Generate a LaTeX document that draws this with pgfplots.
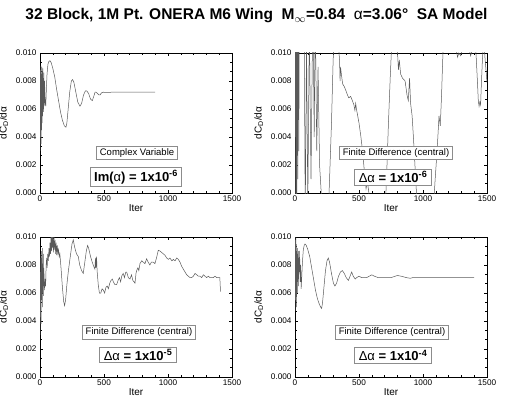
\documentclass[border=0pt]{standalone}
\usepackage{fontspec}
\setmainfont{Liberation Sans}
\usepackage{pgfplots}
\pgfplotsset{compat=1.18}
\pgfplotsset{
  panel/.style={
    scale only axis, width=192pt, height=140pt, anchor=south west,
    xmin=0, xmax=1500, ymin=0, ymax=0.010,
    xtick={0,500,1000,1500},
    ytick={0,0.002,0.004,0.006,0.008,0.010},
    minor x tick num=4, minor y tick num=2,
    tick align=inside,
    major tick length=3pt, minor tick length=1.6pt,
    axis line style={line width=0.6pt},
    every tick/.style={black, line width=0.4pt},
    /pgf/number format/assume math mode=true,
    /pgf/number format/1000 sep={},
    scaled y ticks=false,
    yticklabel style={/pgf/number format/.cd, fixed, fixed zerofill, precision=3},
    tick label style={font=\fontsize{8.2}{9}\selectfont},
    xticklabel style={yshift=1pt},
    xlabel={Iter}, ylabel={dC\textsubscript{D}/dα},
    label style={font=\fontsize{10}{11}\selectfont},
    xlabel style={yshift=4pt},
    ylabel style={yshift=1pt},
    clip=true,
  },
  crv/.style={black!65, line width=0.5pt},
}
\tikzset{
  boxa/.style={draw=black!45, line width=0.8pt, fill=white, font=\fontsize{9.5}{11}\selectfont, inner xsep=3pt, inner ysep=2.5pt},
  boxb/.style={draw=black!45, line width=0.8pt, fill=white, font=\bfseries\fontsize{13}{15}\selectfont, inner xsep=4pt, inner ysep=2.5pt},
}
\begin{document}
\begin{tikzpicture}
\useasboundingbox (0,0) rectangle (513pt,397pt);
\node[font=\bfseries\fontsize{15.5}{18}\selectfont] at (256.5pt,381pt)
  {32 Block, 1M Pt. ONERA M6 Wing\ \ M\textsubscript{$\infty$}=0.84\ \ {\mdseries α}=3.06°\ \ SA Model};

% Top-left
\begin{axis}[panel, at={(40pt,204pt)}]
\addplot[crv] table {
0 0.0030
2 0.0088
4 0.0040
6 0.0091
8 0.0035
10 0.0085
12 0.0045
14 0.0090
16 0.0050
18 0.0087
20 0.0055
22 0.0089
24 0.0060
26 0.0082
28 0.0058
30 0.0086
33 0.0062
36 0.0080
40 0.0065
45 0.0062
50 0.0075
55 0.0085
62 0.0092
70 0.0094
78 0.00945
88 0.0093
100 0.0089
115 0.0083
130 0.0074
145 0.0066
160 0.0058
175 0.0052
190 0.0048
203 0.0047
210 0.0050
220 0.0060
232 0.0072
245 0.0080
255 0.0081
265 0.0079
280 0.0072
295 0.0065
312 0.0062
325 0.0064
340 0.0070
355 0.0073
365 0.0073
380 0.0071
395 0.0067
409 0.0066
420 0.0069
430 0.0072
438 0.0072
450 0.0071
460 0.0070
469 0.0070
480 0.00715
495 0.0072
520 0.00718
560 0.0072
600 0.0072
650 0.00721
700 0.0072
800 0.0072
900 0.0072
};
\node[boxa] at (axis cs:758,0.00286) {Complex Variable};
\node[boxb] at (axis cs:750,0.00114) {Im({\mdseries α}) = 1x10\textsuperscript{-6}};
\end{axis}

% Top-right
\begin{axis}[panel, at={(295pt,204pt)}]
\addplot[crv] table {
0 0.004
3 0.016
6 -0.004
10 0.014
14 -0.002
18 0.013
22 0.001
26 0.015
30 0.003
34 0.013
40 0.011
48 0.014
60 0.015
72 0.012
80 -0.002
90 0.011
100 -0.001
112 0.012
125 0.001
140 0.014
150 0.004
158 0.013
170 0.003
180 0.009
192 0.002
205 0.000
215 -0.003
240 -0.005
262 -0.001
270 0.001
285 0.005
298 0.0095
305 0.0108
315 0.0125
330 0.0115
340 0.0105
348 0.0095
352 0.0080
356 0.0090
362 0.0085
372 0.0078
385 0.0076
398 0.0073
410 0.0070
420 0.0068
435 0.0069
448 0.0066
460 0.0063
468 0.0059
474 0.0064
480 0.0060
488 0.0056
500 0.0050
515 0.0040
530 0.0028
545 0.0012
555 0.0003
565 0.0008
575 0.0002
590 -0.0015
620 -0.004
660 -0.003
705 -0.001
715 0.001
730 0.005
745 0.0085
755 0.0105
770 0.013
790 0.0115
800 0.0102
808 0.0088
815 0.0095
825 0.0085
840 0.0082
860 0.0080
875 0.0070
885 0.0066
895 0.0082
903 0.0064
915 0.0055
925 0.0040
940 0.0015
955 -0.001
990 -0.003
1050 -0.003
1085 -0.0005
1095 0.001
1110 0.003
1125 0.0055
1135 0.0048
1145 0.0070
1152 0.0090
1158 0.0105
1175 0.013
1220 0.014
1260 0.0102
1270 0.0097
1280 0.0100
1295 0.0098
1305 0.0103
1330 0.012
1360 0.0103
1372 0.0098
1385 0.0102
1400 0.0115
1415 0.0098
1425 0.0080
1432 0.0066
1438 0.0062
1444 0.0065
1450 0.0063
1456 0.0078
1464 0.0095
1470 0.0104
1480 0.0102
1487 0.0093
1494 0.0086
1500 0.0079
};
\node[boxa] at (axis cs:789,0.00286) {Finite Difference (central)};
\node[boxb] at (axis cs:766,0.00114) {{\mdseries Δα} = 1x10\textsuperscript{-6}};
\end{axis}

% Bottom-left
\begin{axis}[panel, at={(40pt,20pt)}]
\addplot[crv] table {
0 0.0030
2 0.0075
4 0.0045
6 0.0088
8 0.0038
10 0.0090
12 0.0055
14 0.0085
16 0.0060
18 0.0092
20 0.0050
22 0.0080
24 0.0065
26 0.0088
28 0.0058
30 0.0078
33 0.0068
36 0.0062
40 0.0070
44 0.0065
48 0.0080
52 0.0085
56 0.0078
60 0.0088
65 0.0083
70 0.0092
75 0.0086
78 0.0096
82 0.0088
86 0.0100
90 0.0090
94 0.0102
98 0.0092
102 0.0101
106 0.0089
110 0.0100
114 0.0091
118 0.0098
122 0.0088
126 0.0096
130 0.0087
135 0.0094
140 0.0088
145 0.0091
150 0.0086
155 0.0088
165 0.0077
175 0.0064
185 0.0054
192 0.0051
200 0.0055
210 0.0066
222 0.0076
235 0.0085
250 0.0095
260 0.0098
270 0.0093
285 0.0088
299 0.0086
310 0.0080
325 0.0076
338 0.0074
350 0.0082
362 0.0090
372 0.0094
380 0.0092
395 0.0086
408 0.0082
420 0.0079
429 0.0077
433 0.0085
437 0.0078
442 0.0086
446 0.0076
455 0.0066
464 0.0060
475 0.0060
485 0.0063
495 0.0062
505 0.0060
515 0.0064
525 0.0065
534 0.0063
545 0.0067
555 0.0069
565 0.0070
573 0.0068
585 0.0066
599 0.0066
610 0.0069
620 0.0071
630 0.0068
638 0.0072
650 0.0074
660 0.0071
670 0.0075
677 0.0075
690 0.0071
703 0.0070
715 0.0073
725 0.0069
735 0.0068
742 0.0067
750 0.0074
755 0.0076
765 0.0078
772 0.0076
781 0.0081
795 0.0083
807 0.0082
820 0.0081
833 0.00845
845 0.0082
859 0.0080
870 0.0082
885 0.0082
898 0.0081
910 0.0085
924 0.00905
937 0.0090
950 0.0089
963 0.0088
976 0.0087
990 0.0085
1003 0.0084
1015 0.0085
1030 0.0083
1042 0.0084
1055 0.0083
1068 0.0085
1081 0.0084
1094 0.0082
1107 0.0079
1120 0.0077
1133 0.0075
1146 0.0073
1159 0.0072
1172 0.0071
1185 0.0071
1198 0.0072
1211 0.0074
1224 0.0073
1237 0.0072
1250 0.0072
1263 0.0071
1276 0.0073
1289 0.0072
1302 0.0071
1315 0.0072
1328 0.0071
1341 0.0071
1354 0.0071
1367 0.0072
1380 0.0071
1395 0.0071
1405 0.0071
1410 0.0061
};
\node[boxa] at (axis cs:773,0.0032) {Finite Difference (central)};
\node[boxb] at (axis cs:766,0.00157) {{\mdseries Δα} = 1x10\textsuperscript{-5}};
\end{axis}

% Bottom-right
\begin{axis}[panel, at={(295pt,20pt)}]
\addplot[crv] table {
0 0.0047
2 0.0098
4 0.0055
6 0.0100
8 0.0062
10 0.0095
12 0.0050
14 0.0090
16 0.0068
18 0.0092
20 0.0060
22 0.0088
24 0.0070
26 0.0090
28 0.0065
30 0.0085
33 0.0075
36 0.0090
40 0.0068
44 0.0080
48 0.0063
52 0.0070
58 0.0082
65 0.0091
72 0.0094
78 0.0095
88 0.0094
100 0.0091
115 0.0086
130 0.0078
145 0.0070
160 0.0062
175 0.0056
190 0.0052
200 0.0050
208 0.0049
215 0.0053
225 0.0063
238 0.0076
250 0.0083
260 0.0085
270 0.0082
285 0.0074
300 0.0067
312 0.0065
325 0.0067
340 0.0072
355 0.0075
370 0.0076
385 0.0074
400 0.0071
417 0.0069
430 0.0072
443 0.0075
455 0.0072
470 0.0070
482 0.0071
500 0.0072
521 0.0071
540 0.0071
560 0.0071
580 0.0072
600 0.0073
620 0.0072
650 0.0071
700 0.0071
750 0.0071
800 0.00725
830 0.0072
870 0.0071
900 0.00705
920 0.0071
1000 0.0071
1100 0.0071
1200 0.0071
1300 0.0071
1400 0.0071
};
\node[boxa] at (axis cs:758,0.0032) {Finite Difference (central)};
\node[boxb] at (axis cs:766,0.00155) {{\mdseries Δα} = 1x10\textsuperscript{-4}};
\end{axis}
\end{tikzpicture}
\end{document}
